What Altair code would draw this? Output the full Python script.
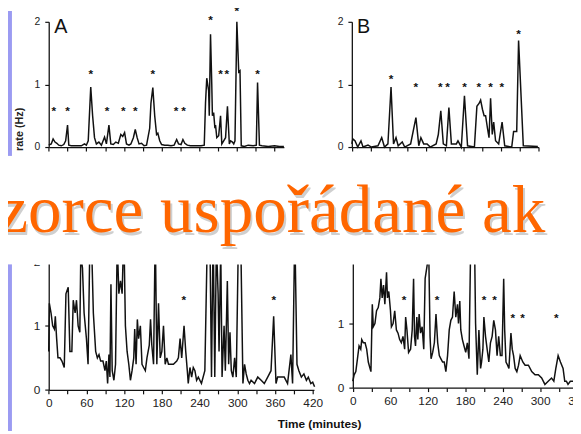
import altair as alt
import pandas as pd

# ---------------- data ----------------
# Panel A (top left): time in minutes, firing rate in Hz
a_min = [0, 4, 7, 10, 13, 16, 20, 24, 27, 30, 32, 36, 45, 52, 57, 60, 63, 67, 70, 73,
         76, 80, 84, 89, 92, 96, 99, 103, 107, 111, 115, 118, 121, 124, 128, 131, 135, 138, 141, 144,
         148, 152, 156, 161, 163, 166, 169, 172, 174, 177, 180, 185, 190, 195, 200, 204, 207, 211, 214, 217,
         221, 226, 235, 243, 248, 250, 252, 255, 256, 258, 260, 261, 263, 265, 266, 268, 271, 274, 276, 279,
         282, 285, 288, 290, 293, 295, 297, 300, 303, 305, 307, 312, 318, 326, 331, 333, 336, 340, 350, 360,
         368, 375]
a_rate = [0.03, 0.05, 0.13, 0.08, 0.06, 0.03, 0.02, 0.04, 0.1, 0.35, 0.03, 0.02, 0.02, 0.02, 0.05, 0.03, 0.1, 0.96, 0.5, 0.15,
          0.05, 0.08, 0.03, 0.16, 0.05, 0.35, 0.05, 0.04, 0.08, 0.06, 0.2, 0.17, 0.23, 0.05, 0.03, 0.05, 0.15, 0.28, 0.15, 0.05,
          0.06, 0.02, 0.03, 0.3, 0.7, 0.95, 0.5, 0.2, 0.22, 0.1, 0.04, 0.03, 0.03, 0.02, 0.03, 0.12, 0.05, 0.04, 0.12, 0.06,
          0.03, 0.02, 0.02, 0.02, 0.03, 0.7, 1.1, 0.9, 0.5, 1.8, 1.0, 0.5, 0.55, 0.3, 0.35, 0.15, 0.18, 0.5, 0.05, 0.1,
          0.15, 0.65, 0.05, 0.1, 0.08, 0.05, 0.1, 2.0, 1.2, 1.22, 0.02, 0.01, 0.03, 0.02, 0.03, 1.03, 0.03, 0.02, 0.01, 0.02,
          0.01, 0.01]
a_star_min = [8, 30, 67, 93, 119, 138, 166, 203, 215, 258, 274, 284, 300, 333]
a_star_lvl = [0.62, 0.62, 1.21, 0.62, 0.62, 0.62, 1.21, 0.62, 0.62, 2.08, 1.21, 1.21, 2.22, 1.21]

# Panel B (top right)
b_min = [0, 1.6, 5, 9.5, 14.7, 18, 26, 31.5, 42, 48, 52.5, 58, 63, 67, 71, 74.5, 81, 85, 94.5, 103,
         107.6, 111, 115.5, 121, 126, 135.5, 139, 143, 147, 152, 156, 160, 168, 170.6, 176, 181, 186, 197, 201, 204.7,
         207, 210, 212.6, 215, 218, 220.5, 223, 225.7, 228, 231, 236, 241.5, 245.7, 257, 260, 265, 268, 275.6, 299]
b_rate = [0.05, 0.13, 0.1, 0.0, 0.1, 0.0, 0.03, 0.0, 0.02, 0.15, 0.0, 0.05, 0.96, 0.05, 0.15, 0.02, 0.08, 0.0, 0.05, 0.47,
          0.02, 0.15, 0.05, 0.05, 0.0, 0.05, 0.2, 0.58, 0.05, 0.02, 0.63, 0.05, 0.05, 0.1, 0.0, 0.82, 0.02, 0.0, 0.65, 0.7,
          0.75, 0.6, 0.5, 0.5, 0.3, 0.15, 0.78, 0.2, 0.4, 0.1, 0.05, 0.4, 0.02, 0.0, 0.25, 0.25, 1.7, 0.02, 0.01]
b_star_min = [63, 103, 142, 154, 181, 204, 223, 241, 268]
b_star_lvl = [1.13, 1.0, 1.0, 1.0, 1.0, 1.0, 1.0, 1.0, 1.85]

# Bottom left panel
c_min = [0, 1, 3.7, 6.3, 9, 10.5, 12.6, 14.7, 17.9, 21, 24.7, 27.4, 31, 33.7, 36.8, 39, 42, 44.2, 46.8, 49.5,
         51, 53.7, 56.3, 60, 62.6, 65.3, 68.4, 71, 74.7, 77.4, 80, 82.6, 86.3, 89.5, 91.6, 93.7, 95.8, 97.4, 99, 101,
         103.7, 106.3, 109, 111.6, 114.2, 116.8, 119.5, 122, 124.7, 127.4, 130, 132.6, 135.3, 136.8, 139, 141, 143, 145.8, 148.4, 151,
         153.7, 156.3, 160, 162, 164, 166.8, 169.5, 172, 174.7, 177.4, 180, 182.6, 185.3, 188, 190.5, 193, 198.4, 203.7, 206.3, 209,
         211.6, 215.3, 218, 220.5, 222, 224.7, 227.4, 230, 232.6, 235.3, 238, 243, 248.4, 252.6, 256.3, 259, 261.6, 264.2, 266.8, 269.5,
         271, 273.7, 275.8, 279, 281, 284.2, 286.3, 288.4, 290.5, 293, 295.8, 298.4, 302, 305.3, 309, 311.6, 314.2, 316.8, 319.5, 322,
         327.4, 332.6, 338, 343, 348.4, 353.7, 357.9, 361.6, 364.2, 369.5, 374.7, 380, 385.3, 388, 391.5, 395, 398, 402, 406, 410,
         413, 417, 420, 423]
c_rate = [0.6, 1.35, 1.2, 1.0, 0.95, 1.15, 0.8, 0.5, 0.5, 0.45, 0.35, 1.5, 1.6, 0.6, 0.6, 1.4, 1.2, 1.4, 1.0, 0.9,
          2.1, 1.9, 1.2, 0.8, 0.4, 2.2, 2.2, 1.2, 0.6, 0.5, 0.55, 0.45, 0.45, 0.3, 0.45, 0.1, 0.55, 0.2, 1.65, 0.3,
          0.15, 0.4, 2.3, 1.5, 1.7, 1.5, 2.5, 1.0, 0.6, 0.4, 0.15, 0.3, 0.5, 0.95, 0.4, 1.1, 0.8, 1.0, 0.4, 0.35,
          0.3, 0.5, 0.7, 1.1, 0.7, 0.4, 2.5, 0.4, 1.35, 0.5, 0.6, 1.0, 0.4, 0.5, 0.4, 0.4, 0.4, 0.45, 0.5, 0.8,
          0.5, 1.0, 0.6, 0.3, 0.1, 0.35, 0.2, 0.35, 0.3, 0.15, 0.2, 0.1, 0.3, 2.5, 2.5, 0.2, 2.5, 0.2, 2.3, 1.5,
          0.6, 2.2, 0.2, 1.0, 0.3, 1.7, 0.4, 0.9, 0.3, 0.2, 0.5, 0.2, 2.5, 2.5, 0.1, 0.4, 0.25, 0.15, 0.1, 0.15,
          0.1, 0.2, 0.15, 0.1, 0.2, 0.3, 1.15, 0.1, 0.2, 0.2, 0.2, 0.1, 0.55, 0.1, 2.5, 0.4, 0.3, 0.2, 0.25, 0.15,
          0.2, 0.1, 0.12, 0.05]
c_star_min = [215, 358]
c_star_lvl = [1.45, 1.45]

# Bottom right panel
d_min = [0, 2.1, 4.8, 7.4, 10, 12.7, 14.3, 16.9, 19.6, 22.2, 24.8, 27.5, 29, 31.2, 32.8, 35.4, 38, 40.7, 43.3, 45,
         47, 49.2, 51.3, 54, 55.5, 57.6, 60.3, 61.8, 64.5, 67.1, 69.8, 72.4, 75, 77.7, 80.3, 83, 84.6, 86.7, 89.3, 92.5,
         95.1, 97.3, 98.8, 100.4, 102.5, 104.1, 106.2, 108.4, 111, 113.6, 115.8, 118.9, 121.6, 123.7, 125.3, 127.9, 130.6, 133.2, 135.9, 138.5,
         141.1, 143.8, 146.4, 149, 151.7, 154.4, 157, 159.6, 162.3, 164.9, 167.6, 169.2, 171.3, 172.9, 175.5, 178.1, 180.8, 183.4, 186, 188.7,
         191.4, 195, 196.6, 199.3, 201.9, 204.6, 206.2, 208.3, 209.9, 212.5, 215.1, 217.8, 220.4, 223.1, 225.7, 228.4, 231, 233.6, 236.3, 238.9,
         241.6, 243.2, 245.3, 247.9, 250, 253.2, 255.3, 257.4, 260, 262.7, 265.4, 268, 272.2, 275.9, 281.2, 286.5, 291.8, 297.1, 302.4, 307.6,
         312.9, 318.2, 321.9, 325.1, 328.8, 332.5, 336.7, 339.4, 342, 344.6, 348.3, 352.6, 357.9]
d_rate = [0.1, 0.2, 0.25, 0.45, 0.65, 0.6, 0.75, 0.7, 0.7, 0.6, 0.4, 0.3, 0.25, 1.3, 0.95, 1.0, 1.2, 1.25, 1.4, 1.7,
          1.4, 1.6, 1.3, 1.8, 1.4, 1.5, 1.2, 0.95, 1.0, 1.2, 0.9, 0.85, 0.75, 0.7, 0.8, 0.6, 1.1, 0.9, 0.55, 0.6,
          0.9, 1.7, 0.8, 0.65, 1.1, 0.75, 1.15, 0.85, 0.95, 0.6, 1.7, 1.9, 2.1, 0.8, 0.45, 0.55, 0.7, 1.15, 0.7, 0.5,
          0.45, 0.4, 0.4, 0.25, 0.5, 0.9, 1.05, 1.1, 1.5, 1.1, 1.3, 1.0, 1.35, 0.9, 0.75, 0.65, 0.55, 0.7, 0.45, 2.2,
          2.2, 2.2, 1.0, 0.2, 0.9, 0.3, 0.4, 0.6, 1.1, 0.8, 0.6, 0.4, 0.7, 0.8, 1.05, 0.9, 0.5, 0.8, 0.5, 0.5,
          1.7, 0.9, 0.4, 0.35, 0.3, 0.85, 0.6, 0.5, 0.3, 0.25, 0.35, 0.5, 0.4, 0.35, 0.35, 0.25, 0.2, 0.2, 0.15, 0.05,
          0.1, 0.15, 0.1, 0.3, 0.5, 0.4, 0.3, 0.1, 0.1, 0.05, 0.1, 0.1, 0.12]
d_star_min = [82, 135, 210, 227, 256, 272, 326]
d_star_lvl = [1.42, 1.42, 1.42, 1.42, 1.13, 1.13, 1.13]

y_ticks = [0, 1, 2]
panel_letters = ["A", "B"]
slide_title = "zorce uspořádané ak"
x_title = "Time (minutes)"
y_title = "rate (Hz)"

# ---------------- layout ----------------
W, H = 573, 426          # whole canvas (page minus 8px margin)
M = 8                    # page margin
LINE = "#111111"
PURPLE = "#9B9BF2"
ORANGE = "#FF6600"
SANS = "Liberation Sans, Arial, sans-serif"
SERIF = "Times New Roman, Liberation Serif, serif"

one = pd.DataFrame({"k": [0]})


def panel(mins, rates, smin, slvl, xmax, x0, ppm, y0, ppu, tmax, labels, fs):
    df = pd.DataFrame({"minute": mins, "rate": rates})
    sd = pd.DataFrame({"minute": smin, "rate": slvl, "s": ["*"] * len(smin)})
    xr = [x0 - M, x0 - M + xmax * ppm]
    yr = [y0 - M, y0 - M - 2 * ppu]
    xs = alt.Scale(domain=[0, xmax], range=xr, nice=False, zero=False)
    ys = alt.Scale(domain=[0, 2], range=yr, nice=False, zero=False)
    xkw = dict(orient="bottom", offset=(y0 - M) - H, values=list(range(0, tmax + 1, 30)),
               title=None, grid=False, tickSize=4, tickColor=LINE, tickWidth=1.2,
               domainColor=LINE, domainWidth=1.3, labelFlush=False, labelOverlap=False,
               labelFont=SANS, labelFontSize=fs, labelColor="#222", labelPadding=4)
    if labels:
        xkw["labelExpr"] = "datum.value % 60 == 0 ? '' + datum.value : ''"
    else:
        xkw["labels"] = False
    yax = alt.Axis(orient="left", offset=-(x0 - M), values=y_ticks, title=None, grid=False,
                   tickSize=4, tickColor=LINE, tickWidth=1.2, domainColor=LINE, domainWidth=1.3,
                   labelOverlap=False, labelFlush=False, labelBound=False,
                   labelExpr="'' + round(datum.value)",
                   labelFont=SANS, labelFontSize=fs, labelColor="#222", labelPadding=5)
    line = alt.Chart(df).mark_line(color=LINE, strokeWidth=1.5).encode(
        x=alt.X("minute:Q", scale=xs, axis=alt.Axis(**xkw)),
        y=alt.Y("rate:Q", scale=ys, axis=yax),
        order="minute:Q",
    )
    stars = alt.Chart(sd).mark_text(font=SANS, fontSize=12, fontWeight="bold", color=LINE,
                                    baseline="middle", dy=3).encode(
        x=alt.X("minute:Q", scale=xs, axis=None),
        y=alt.Y("rate:Q", scale=ys, axis=None),
        text="s:N",
    )
    return [line, stars]


layers = []
layers += panel(a_min, a_rate, a_star_min, a_star_lvl, 375, 49.3, 0.636, 146, 63.5, 360, False, 10.5)
layers += panel(b_min, b_rate, b_star_min, b_star_lvl, 300, 356.7, 0.631, 146, 63.5, 300, False, 10.5)
layers += panel(c_min, c_rate, c_star_min, c_star_lvl, 422, 49.3, 0.6374, 392.3, 65, 420, True, 12)
layers += panel(d_min, d_rate, d_star_min, d_star_lvl, 360, 357.7, 0.6333, 390, 65, 360, True, 12)

layers.append(alt.Chart(pd.DataFrame({"t": [panel_letters[0]]})).mark_text(
    font=SANS, fontSize=20, align="left", baseline="alphabetic", color="#111").encode(
    x=alt.value(55 - M), y=alt.value(30 - M), text="t:N"))
layers.append(alt.Chart(pd.DataFrame({"t": [panel_letters[1]]})).mark_text(
    font=SANS, fontSize=20, align="left", baseline="alphabetic", color="#111").encode(
    x=alt.value(362 - M), y=alt.value(30 - M), text="t:N"))

# y title (cut by the white band)
layers.append(alt.Chart(pd.DataFrame({"t": [y_title]})).mark_text(
    font=SANS, fontSize=11, fontWeight="bold", angle=270, align="right", baseline="middle",
    color="#222").encode(x=alt.value(20 - M), y=alt.value(106 - M), text="t:N"))

# x title
layers.append(alt.Chart(pd.DataFrame({"t": [x_title]})).mark_text(
    font=SANS, fontSize=12, fontWeight="bold", align="center", baseline="alphabetic",
    color="#111").encode(x=alt.value(324 - M), y=alt.value(431 - M), text="t:N"))

# white band in the middle of the slide
layers.append(alt.Chart(one).mark_rect(color="white").encode(
    x=alt.value(0), x2=alt.value(W), y=alt.value(155 - M), y2=alt.value(265 - M)))
# purple slide background strips at the left edge
layers.append(alt.Chart(one).mark_rect(color=PURPLE).encode(
    x=alt.value(0), x2=alt.value(12 - M), y=alt.value(0), y2=alt.value(155 - M)))
layers.append(alt.Chart(one).mark_rect(color=PURPLE).encode(
    x=alt.value(0), x2=alt.value(12 - M), y=alt.value(265 - M), y2=alt.value(H)))

# slide title with shadow
tdf = pd.DataFrame({"t": [slide_title]})
layers.append(alt.Chart(tdf).mark_text(
    font=SERIF, fontSize=68, align="left", baseline="alphabetic", color="#a0a0a0",
    opacity=0.5, dx=2, dy=3).encode(x=alt.value(-2 - M), y=alt.value(232 - M), text="t:N"))
layers.append(alt.Chart(tdf).mark_text(
    font=SERIF, fontSize=68, align="left", baseline="alphabetic", color=ORANGE).encode(
    x=alt.value(-2 - M), y=alt.value(232 - M), text="t:N"))

chart = alt.layer(*layers).resolve_scale(
    x="independent", y="independent"
).resolve_axis(
    x="independent", y="independent"
).properties(
    width=W, height=H, padding=0, autosize=alt.AutoSizeParams(type="none")
).configure_view(strokeWidth=0)

chart.save("out.html", embed_options={"renderer": "svg", "actions": False})
